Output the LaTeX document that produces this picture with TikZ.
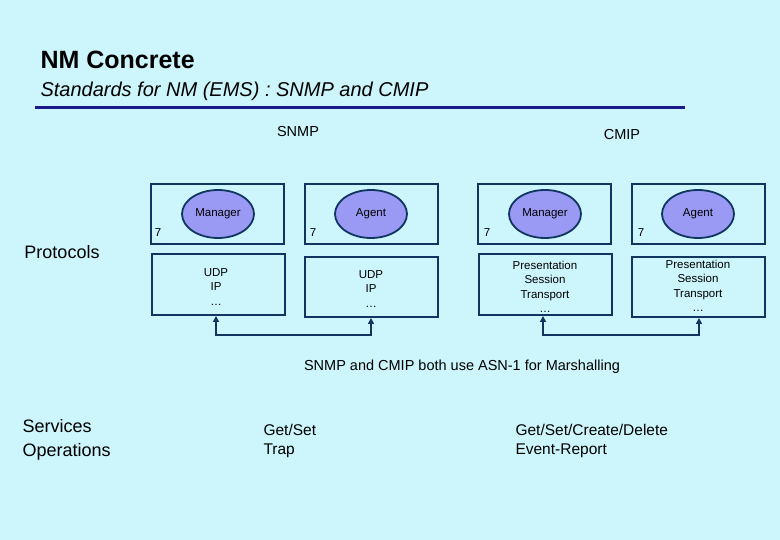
\documentclass[tikz,border=0pt]{standalone}
\usepackage{fontspec}
\setmainfont{Liberation Sans}
\usetikzlibrary{arrows.meta,shapes.geometric}
\definecolor{bg}{HTML}{CCF5FC}
\definecolor{navy}{HTML}{0F3560}
\definecolor{ellc}{HTML}{9A9AF5}
\definecolor{rule}{HTML}{1A1A8C}
\begin{document}
\begin{tikzpicture}[x=1pt,y=-1pt,
  box/.style={draw=navy,line width=2pt,fill=bg},
  ell/.style={ellipse,draw=navy,line width=1.8pt,fill=ellc,minimum width=72pt,minimum height=48pt,inner sep=0pt,font=\fontsize{11.5}{13}\selectfont},
  lbl/.style={font=\fontsize{11.5}{13}\selectfont},
  stk/.style={align=center,font=\fontsize{11.5}{14.5}\selectfont},
  con/.style={draw=navy,line width=2pt,{Triangle[length=6pt,width=6pt]}-{Triangle[length=6pt,width=6pt]}},
  txt/.style={anchor=west,font=\fontsize{15.5}{19.5}\selectfont,align=left}]
\useasboundingbox (0,0) rectangle (780,540);
\fill[bg] (0,0) rectangle (780,540);
\node[anchor=west,font=\bfseries\fontsize{25}{28}\selectfont] (t1) at (37,60) {NM Concrete};
\node[anchor=west,font=\itshape\fontsize{20}{23}\selectfont] (t2) at (37,91) {Standards for NM (EMS) : SNMP and CMIP};
\draw[rule,line width=3pt] (35,108) -- (685,108);
\node[font=\fontsize{14.5}{17}\selectfont] (snmp) at (298,132) {SNMP};
\node[font=\fontsize{14.5}{17}\selectfont] (cmip) at (622,135) {CMIP};
\node[font=\fontsize{18}{21}\selectfont] (prot) at (62,252) {Protocols};
% SNMP
\draw[box] (151,184) rectangle (284,244);
\node[ell] (m1) at (218,214) {Manager};
\node[lbl] (s1) at (158,233) {7};
\draw[box] (152,254) rectangle (285,315);
\node[stk] (u1) at (216,287) {UDP\\IP\\…};
\coordinate (a1) at (216,316);
\draw[box] (305,184) rectangle (438,244);
\node[ell] (g1) at (371,214) {Agent};
\node[lbl] (s2) at (313,233) {7};
\draw[box] (305,257) rectangle (438,317);
\node[stk] (u2) at (371,289) {UDP\\IP\\…};
\coordinate (a2) at (371,318);
% CMIP
\draw[box] (478,184) rectangle (611,244);
\node[ell] (m2) at (545,214) {Manager};
\node[lbl] (s3) at (487,233) {7};
\draw[box] (479,254) rectangle (612,315);
\node[stk] (p1) at (545,287) {Presentation\\Session\\Transport\\…};
\coordinate (a3) at (543,316);
\draw[box] (632,184) rectangle (765,244);
\node[ell] (g2) at (698,214) {Agent};
\node[lbl] (s4) at (641,233) {7};
\draw[box] (632,257) rectangle (765,317);
\node[stk] (p2) at (698,286) {Presentation\\Session\\Transport\\…};
\coordinate (a4) at (699,318);
% connectors
\coordinate (b1) at (216,335);
\coordinate (b3) at (543,335);
\draw[con] (a1) -- (b1) -| (a2);
\draw[con] (a3) -- (b3) -| (a4);
\node[font=\fontsize{14.5}{17}\selectfont] (asn) at (462,367) {SNMP and CMIP both use ASN-1 for Marshalling};
\node[txt,font=\fontsize{18}{24}\selectfont] (svc) at (19,440) {Services\\Operations};
\node[txt] (gs) at (260,441) {Get/Set\\Trap};
\node[txt] (gc) at (512,441) {Get/Set/Create/Delete\\Event-Report};
\end{tikzpicture}
\end{document}
